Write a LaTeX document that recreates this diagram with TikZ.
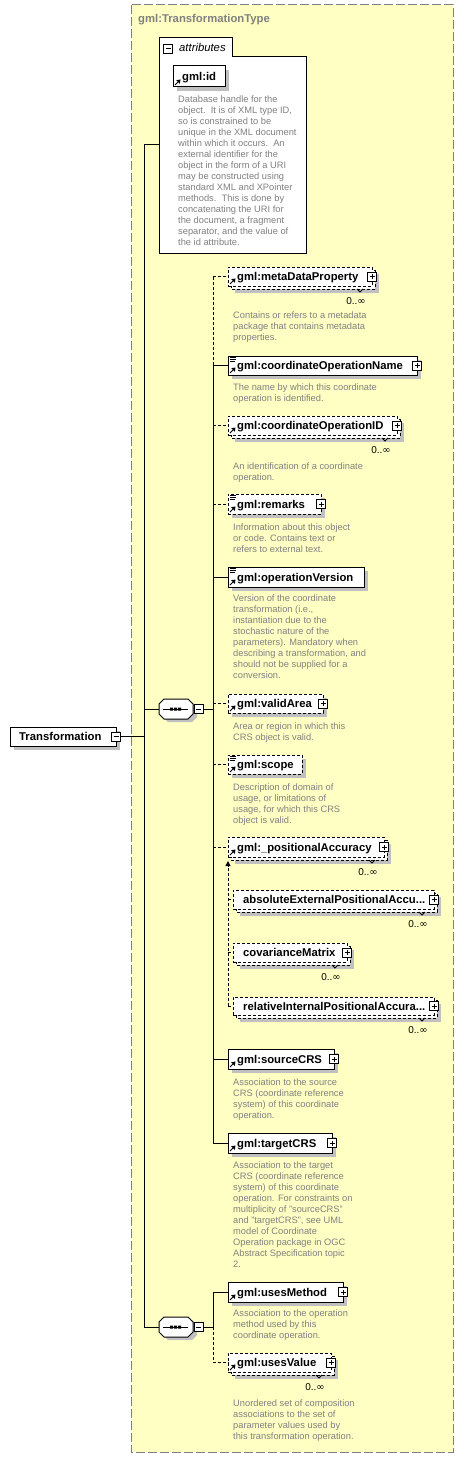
\documentclass[tikz,border=0pt]{standalone}
\usepackage{fontspec}
\setmainfont{Liberation Sans}
\newfontfamily\symfont{DejaVu Sans}
\usetikzlibrary{arrows.meta}
\definecolor{bgy}{HTML}{FFFFC4}
\definecolor{bord}{HTML}{808080}
\definecolor{shad}{HTML}{C0C0C0}
\definecolor{desc}{HTML}{808080}
\tikzset{
  ebox/.style={draw=black, fill=white, line width=1pt, inner sep=0pt, outer sep=0pt, anchor=north west},
  optbox/.style={ebox, dash pattern=on 3pt off 2pt},
  conn/.style={line width=1pt},
  optconn/.style={line width=1pt, dash pattern=on 3pt off 2pt},
  lbl/.style={font=\fontsize{11.3}{13}\selectfont\bfseries, inner sep=0pt, anchor=base west},
  dsc/.style={font=\fontsize{9.3}{11}\selectfont, text=desc, align=left, inner sep=0pt, anchor=north west},
  mult/.style={font=\fontsize{10}{11}\selectfont, inner sep=0pt, anchor=base east},
  pmbox/.style={draw=black, fill=white, line width=0.8pt, minimum size=9pt, inner sep=0pt, outer sep=0pt},
  icon/.style={line width=0.8pt},
}
% plus / minus boxes
\newcommand\PlusAt[3]{%
  \node[pmbox] (#1) at (#2,#3) {};
  \draw[icon] ([xshift=-2.5pt]#1.center) -- ([xshift=2.5pt]#1.center)
              ([yshift=-2.5pt]#1.center) -- ([yshift=2.5pt]#1.center);}
\newcommand\MinusAt[3]{%
  \node[pmbox] (#1) at (#2,#3) {};
  \draw[icon] ([xshift=-2.5pt]#1.center) -- ([xshift=2.5pt]#1.center);}
% icons
\newcommand\RefIcon[1]{%
  \draw[line width=1pt] ([shift={(2,-2)}]#1.south west) -- ([shift={(5,-5)}]#1.south west);
  \fill ([shift={(7.5,-7.5)}]#1.south west) -- ([shift={(3.2,-6.8)}]#1.south west) -- ([shift={(6.8,-3.2)}]#1.south west) -- cycle;}
\newcommand\TxtIcon[1]{%
  \draw[icon] ([shift={(2,1.5)}]#1.north west) -- ([shift={(8,1.5)}]#1.north west)
              ([shift={(2,3.5)}]#1.north west) -- ([shift={(8,3.5)}]#1.north west)
              ([shift={(2,5.5)}]#1.north west) -- ([shift={(6.5,5.5)}]#1.north west);}
% single element box: name x1 y1 x2 y2 style textoffset label
\newcommand\Elem[8]{%
  \fill[shad] (#2+4,#3+4) rectangle (#4+4,#5+4);
  \node[#6, minimum width={#4-#2}, minimum height={#5-#3}] (#1) at (#2,#3) {};
  \node[lbl] (#1-t) at (#2+#7,{(#3+#5)/2+4}) {#8};}
% stacked (0..inf) element box: name x1 y1 x2 y2 textoffset label
\newcommand\SElem[7]{%
  \fill[shad] (#2+7,#3+7) rectangle (#4+4,#5+4);
  \draw[fill=white, line width=1pt, dash pattern=on 3pt off 2pt] (#2+3,#3+3) rectangle (#4,#5);
  \draw[line width=0.8pt] (#4-18,#5) -- (#4-15,#5+3) -- (#4-12,#5);
  \node[optbox, minimum width={#4-#2-3}, minimum height={#5-#3-3}] (#1) at (#2,#3) {};
  \node[lbl] (#1-t) at (#2+#6,{(#3+#5-3)/2+4}) {#7};
  \node[mult] (#1-m) at (#4-9,#5+15.5) {0..{\symfont ∞}};}
\begin{document}
\begin{tikzpicture}[x=1pt,y=-1pt]
\useasboundingbox (0,0) rectangle (464,1458);
\fill[white] (0,0) rectangle (464,1458);
% outer type box
\draw[fill=bgy, draw=bord, line width=1pt, dash pattern=on 9pt off 3pt] (131,5) rectangle (453,1452);
\node[lbl, text=bord] (ttl) at (138,23) {gml:TransformationType};

% attributes box
\node[inner sep=0pt, outer sep=0pt, minimum width=147, minimum height=196, anchor=north west] (attr) at (159,57) {};
\draw[fill=white, line width=1pt] (159,38) -- (232,38) -- (232,57) -- (306,57) -- (306,253) -- (159,253) -- cycle;
\MinusAt{attrm}{168}{48.5}
\node[font=\fontsize{11.3}{13}\selectfont\itshape, inner sep=0pt, anchor=base west] (attrt) at (179,52) {attributes};
\Elem{gid}{173}{66}{225}{87}{ebox}{9}{gml:id}
\RefIcon{gid}
\node[dsc] (gid-d) at (178,95.7) {Database handle for the\\object.\ \ It is of XML type ID,\\so is constrained to be\\unique in the XML document\\within which it occurs.\ \ An\\external identifier for the\\object in the form of a URI\\may be constructed using\\standard XML and XPointer\\methods.\ \ This is done by\\concatenating the URI for\\the document, a fragment\\separator, and the value of\\the id attribute.};

% root element
\Elem{root}{10}{727}{116}{746}{ebox}{9}{Transformation}
\MinusAt{rootm}{116}{736.5}

% compositor 1
\fill[shad] (163,707) -- (168,702) -- (192,702) -- (197,707) -- (197,717) -- (192,722) -- (168,722) -- (163,717) -- cycle;
\node[inner sep=0pt, outer sep=0pt, minimum width=34, minimum height=20] (seq1) at (176,709) {};
\draw[fill=white, line width=1pt] (159,704) -- (164,699) -- (188,699) -- (193,704) -- (193,714) -- (188,719) -- (164,719) -- (159,714) -- cycle;
\draw[line width=1pt] (163,709) -- (188,709);
\fill (170,707.5) rectangle (173,710.5) (174,707.5) rectangle (177,710.5) (178,707.5) rectangle (181,710.5);
\MinusAt{seq1m}{198.5}{709}

% compositor 2
\fill[shad] (163,1325) -- (168,1320) -- (192,1320) -- (197,1325) -- (197,1335) -- (192,1340) -- (168,1340) -- (163,1335) -- cycle;
\node[inner sep=0pt, outer sep=0pt, minimum width=34, minimum height=20] (seq2) at (176,1327) {};
\draw[fill=white, line width=1pt] (159,1322) -- (164,1317) -- (188,1317) -- (193,1322) -- (193,1332) -- (188,1337) -- (164,1337) -- (159,1332) -- cycle;
\draw[line width=1pt] (163,1327) -- (188,1327);
\fill (170,1325.5) rectangle (173,1328.5) (174,1325.5) rectangle (177,1328.5) (178,1325.5) rectangle (181,1328.5);
\MinusAt{seq2m}{198.5}{1327}

% children of sequence 1
\SElem{mdp}{228}{267}{375}{289}{9}{gml:metaDataProperty}
\PlusAt{mdpp}{372}{276.5}
\RefIcon{mdp}
\node[dsc] (mdp-d) at (233,311.7) {Contains or refers to a metadata\\package that contains metadata\\properties.};

\Elem{con}{228}{356}{417}{375}{ebox}{9}{gml:coordinateOperationName}
\PlusAt{conp}{417}{365.5}
\TxtIcon{con}\RefIcon{con}
\node[dsc] (con-d) at (233,383.7) {The name by which this coordinate\\operation is identified.};

\SElem{cid}{228}{416}{400}{438}{9}{gml:coordinateOperationID}
\PlusAt{cidp}{397}{425.5}
\RefIcon{cid}
\node[dsc] (cid-d) at (233,462.2) {An identification of a coordinate\\operation.};

\Elem{rem}{228}{494}{321}{514}{optbox}{9}{gml:remarks}
\PlusAt{remp}{321}{504}
\TxtIcon{rem}\RefIcon{rem}
\node[dsc] (rem-d) at (233,523.7) {Information about this object\\or code. Contains text or\\refers to external text.};

\Elem{ver}{228}{567}{364}{587}{ebox}{9}{gml:operationVersion}
\TxtIcon{ver}\RefIcon{ver}
\node[dsc] (ver-d) at (233,594.7) {Version of the coordinate\\transformation (i.e.,\\instantiation due to the\\stochastic nature of the\\parameters). Mandatory when\\describing a transformation, and\\should not be supplied for a\\conversion.};

\Elem{va}{228}{694}{323}{713}{optbox}{9}{gml:validArea}
\PlusAt{vap}{323}{703.5}
\RefIcon{va}
\node[dsc] (va-d) at (233,722.7) {Area or region in which this\\CRS object is valid.};

\Elem{sc}{228}{755}{302}{774}{optbox}{9}{gml:scope}
\TxtIcon{sc}\RefIcon{sc}
\node[dsc] (sc-d) at (233,783.7) {Description of domain of\\usage, or limitations of\\usage, for which this CRS\\object is valid.};

\SElem{pa}{228}{837}{387}{860}{9}{gml:\_positionalAccuracy}
\PlusAt{pap}{384}{847}
\RefIcon{pa}

\SElem{abs}{233}{890}{437}{912}{10}{absoluteExternalPositionalAccu...}
\PlusAt{absp}{434}{899.5}
\SElem{cov}{233}{943}{350}{965}{10}{covarianceMatrix}
\PlusAt{covp}{347}{952.5}
\SElem{rel}{233}{997}{437}{1018}{10}{relativeInternalPositionalAccura...}
\PlusAt{relp}{434}{1006}

% substitution group line
\coordinate (subb) at (228,1006);
\draw[optconn, -{Triangle[length=5pt,width=5pt]}] (subb) -- (228,861);
\draw[optconn] (subb |- abs.west) -- (abs.west);
\draw[optconn] (subb |- cov.west) -- (cov.west);
\draw[optconn] (subb) -- (rel.west);

\Elem{src}{228}{1049}{334}{1069}{ebox}{9}{gml:sourceCRS}
\PlusAt{srcp}{334}{1059}
\RefIcon{src}
\node[dsc] (src-d) at (233,1078.7) {Association to the source\\CRS (coordinate reference\\system) of this coordinate\\operation.};

\Elem{tgt}{228}{1133}{332}{1153}{ebox}{9}{gml:targetCRS}
\PlusAt{tgtp}{332}{1143}
\RefIcon{tgt}
\node[dsc] (tgt-d) at (233,1161.7) {Association to the target\\CRS (coordinate reference\\system) of this coordinate\\operation. For constraints on\\multiplicity of "sourceCRS"\\and "targetCRS", see UML\\model of Coordinate\\Operation package in OGC\\Abstract Specification topic\\2.};

% children of sequence 2
\Elem{um}{228}{1282}{343}{1302}{ebox}{9}{gml:usesMethod}
\PlusAt{ump}{343}{1292}
\RefIcon{um}
\node[dsc] (um-d) at (233,1309.7) {Association to the operation\\method used by this\\coordinate operation.};

\SElem{uv}{228}{1353}{334}{1375}{9}{gml:usesValue}
\PlusAt{uvp}{331}{1362.5}
\RefIcon{uv}
\node[dsc] (uv-d) at (233,1399.7) {Unordered set of composition\\associations to the set of\\parameter values used by\\this transformation operation.};

% ---- connectors ----
\coordinate (lb) at (144,145);
\coordinate (lb2) at (144,1327);
\draw[conn] (attr.west |- lb) -- (lb) -- (lb2) -- (seq2.west);
\draw[conn] (rootm.east) -- (rootm.east -| lb);
\draw[conn] (seq1.west -| lb) -- (seq1.west);

% sequence 1 bus
\coordinate (b1) at (213,709);
\draw[conn] (seq1m.east) -- (b1);
\draw[optconn] (b1 |- mdp.west) -- (b1 |- con.west);
\draw[conn] (b1 |- con.west) -- (b1 |- tgt.west);
\draw[optconn] (b1 |- mdp.west) -- (mdp.west);
\draw[conn] (b1 |- con.west) -- (con.west);
\draw[optconn] (b1 |- cid.west) -- (cid.west);
\draw[optconn] (b1 |- rem.west) -- (rem.west);
\draw[conn] (b1 |- ver.west) -- (ver.west);
\draw[optconn] (b1 |- va.west) -- (va.west);
\draw[optconn] (b1 |- sc.west) -- (sc.west);
\draw[optconn] (b1 |- pa.west) -- (pa.west);
\draw[conn] (b1 |- src.west) -- (src.west);
\draw[conn] (b1 |- tgt.west) -- (tgt.west);

% sequence 2 bus
\coordinate (b2) at (213,1327);
\draw[conn] (seq2m.east) -- (b2);
\draw[conn] (b2) -- (b2 |- um.west) -- (um.west);
\draw[optconn] (b2) -- (b2 |- uv.west) -- (uv.west);
\end{tikzpicture}
\end{document}
